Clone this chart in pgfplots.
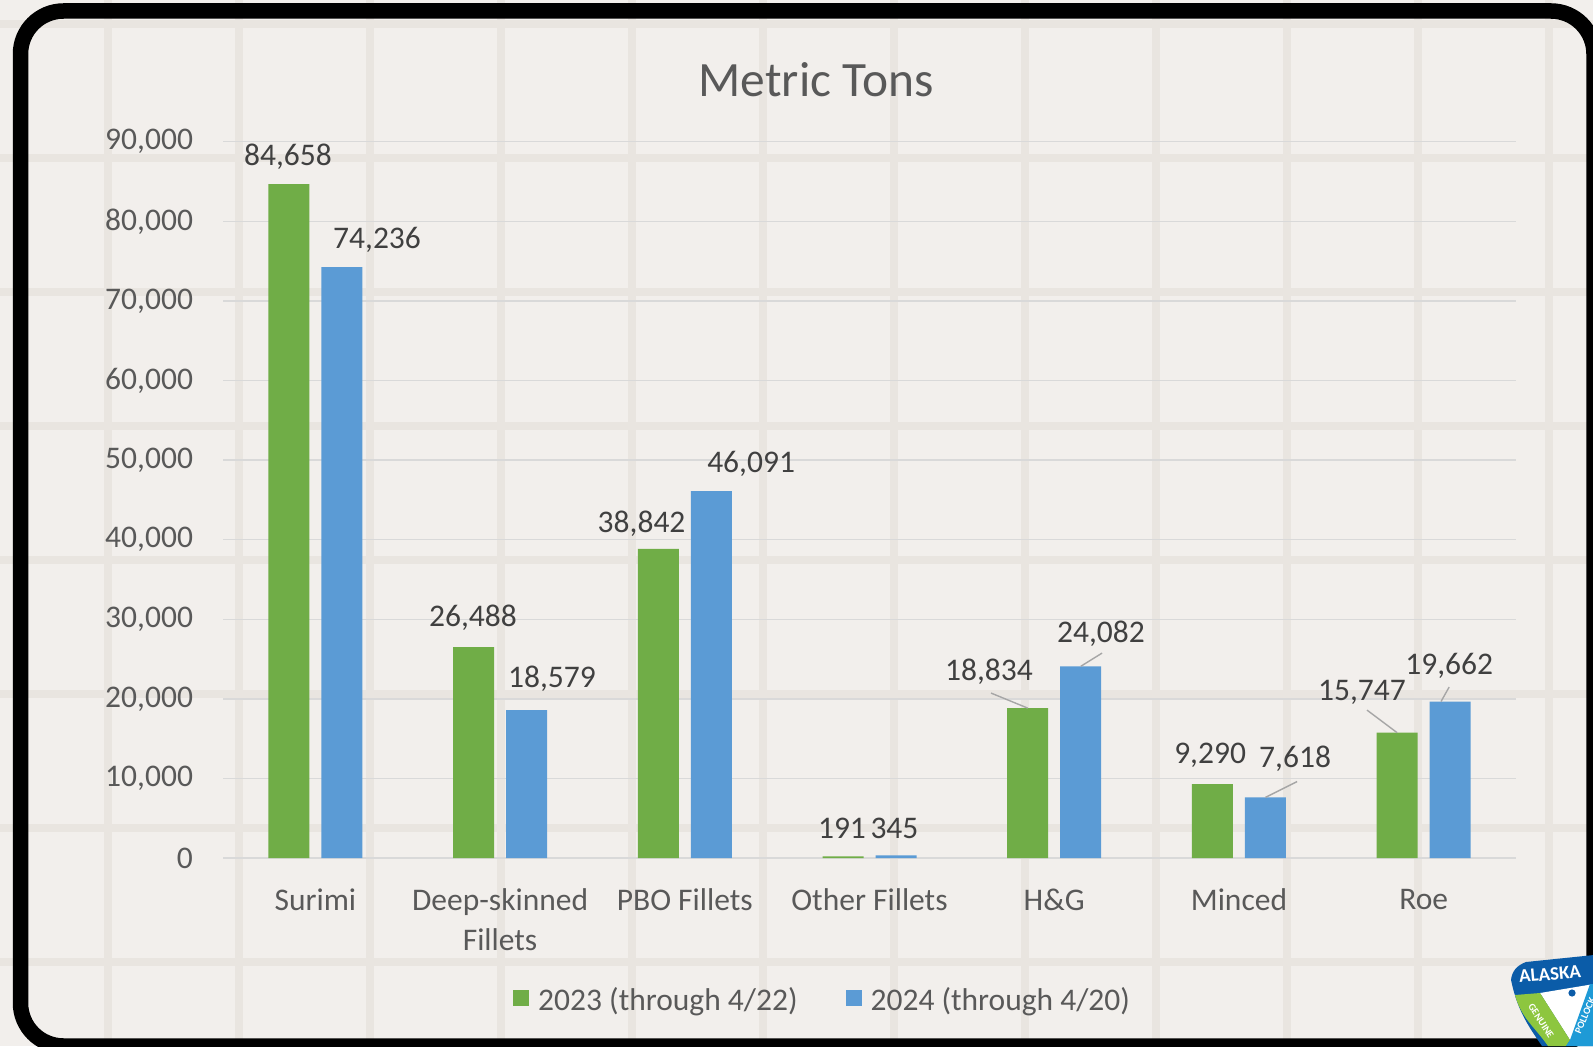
\documentclass[border=0pt]{standalone}
\usepackage{pgfplots}
\pgfplotsset{compat=1.18}
\usepackage{fontspec}
\setmainfont{Carlito}

\definecolor{bg}{HTML}{F2EFEC}
\definecolor{stripe}{HTML}{E9E5E0}
\definecolor{grn}{HTML}{70AD47}
\definecolor{blu}{HTML}{5B9BD5}
\definecolor{tickc}{HTML}{595959}
\definecolor{lblc}{HTML}{404040}
\definecolor{gridc}{HTML}{D9D9D9}
\definecolor{leader}{HTML}{A6A6A6}
\definecolor{logoblue}{HTML}{0B5CA8}
\definecolor{logogreen}{HTML}{8DC63F}
\definecolor{logocyan}{HTML}{1E9AD6}

\newcommand{\txt}{\fontsize{15.75}{20}\selectfont}

\begin{document}
\begin{tikzpicture}
\useasboundingbox (0,0) rectangle (796.5pt,523pt);
\clip (0,0) rectangle (796.5pt,523pt);

% background paper
\fill[bg] (0,0) rectangle (796.5pt,523pt);
\foreach \k in {0,...,11}
  \fill[stripe] ({(104+131*\k)*0.5pt},0) rectangle ({(112+131*\k)*0.5pt},523pt);
\foreach \k in {0,...,7}
  \fill[stripe] (0,{(1046-20-134*\k)*0.5pt}) rectangle (796.5pt,{(1046-28-134*\k)*0.5pt});

% frame
\draw[line width=7.75pt, rounded corners=21.5pt] (10.25pt,0pt) rectangle (797pt,517.5pt);

% title
\node[font=\fontsize{24.7}{30}\selectfont, text=tickc, anchor=base] at (408pt,474.5pt) {Metric Tons};

\begin{axis}[
  at={(111.5pt,94pt)}, anchor=south west,
  width=646.5pt, height=358.15pt, scale only axis,
  xmin=-0.5, xmax=6.5, ymin=0, ymax=90000,
  ytick={0,10000,...,90000},
  xtick={0,...,6},
  xticklabels={Surimi,{Deep-skinned\\Fillets},PBO Fillets,Other Fillets,H\&G,Minced,Roe},
  scaled y ticks=false,
  yticklabel style={/pgf/number format/fixed, /pgf/number format/1000 sep={,},
    /pgf/number format/assume math mode=true, xshift=-11.5pt},
  xticklabel style={align=center, yshift=-12pt},
  every tick label/.append style={font=\txt, text=tickc},
  major tick length=0pt,
  axis line style={draw=none},
  ymajorgrids, grid style={gridc, line width=0.7pt},
  clip=false,
  legend style={at={(0.4645,-0.1982)}, anchor=center, draw=none, fill=none,
    legend columns=2, font=\txt, text=tickc,
    /tikz/every even column/.append style={column sep=22pt}},
  legend image code/.code={\fill[#1,draw=none] (0pt,-3pt) rectangle (8pt,5pt); \path (10.5pt,0pt);},
]
\addplot[ybar, fill=grn, draw=none, bar width=0.222, bar shift=-0.1435] coordinates {
  (0,84658) (1,26488) (2,38842) (3,191) (4,18834) (5,9290) (6,15747)};
\addplot[ybar, fill=blu, draw=none, bar width=0.222, bar shift=0.1435] coordinates {
  (0,74236) (1,18579) (2,46091) (3,345) (4,24082) (5,7618) (6,19662)};
\legend{2023 (through 4/22), 2024 (through 4/20)}

% data labels
\begin{scope}[every node/.style={font=\txt, text=lblc}]
\node at (axis cs:-0.148,88170) {84,658};
\node at (axis cs:0.334,77685) {74,236};
\node at (axis cs:0.853,30145) {26,488};
\node at (axis cs:1.281,22484) {18,579};
\node at (axis cs:1.766,41952) {38,842};
\node at (axis cs:2.359,49488) {46,091};
\node at (axis cs:2.851,3700) {191};
\node at (axis cs:3.135,3700) {345};
\node at (axis cs:3.647,23363) {18,834};
\node at (axis cs:4.253,28198) {24,082};
\node at (axis cs:4.844,12938) {9,290};
\node at (axis cs:5.304,12436) {7,618};
\node at (axis cs:5.666,20851) {15,747};
\node at (axis cs:6.138,24116) {19,662};
\end{scope}

% leader lines
\begin{scope}[leader, line width=0.7pt]
\draw (axis cs:3.658,20724) -- (axis cs:3.8565,18834);
\draw (axis cs:4.259,25748) -- (axis cs:4.1435,24082);
\draw (axis cs:5.315,9608) -- (axis cs:5.1435,7618);
\draw (axis cs:5.693,18589) -- (axis cs:5.8565,15747);
\draw (axis cs:6.094,19662) -- (axis cs:6.138,21478);
\end{scope}
\end{axis}

% logo (corner badge)
\fill[logoblue] (755.5pt,33pt) to[out=85,in=200] (763pt,42pt) -- (797pt,45.5pt) -- (797pt,0pt) -- (771pt,0pt) to[out=125,in=-78] cycle;
\fill[white] (770pt,26.5pt) -- (797pt,31pt) -- (797pt,0pt) -- (785pt,3pt) -- cycle;
\fill[logogreen] (757.5pt,25.5pt) -- (770pt,26.5pt) -- (785pt,3pt) -- (783pt,0pt) -- (774pt,0pt) to[out=125,in=-75] cycle;
\fill[logocyan] (795pt,31pt) -- (797pt,31pt) -- (797pt,0pt) -- (783pt,0pt) -- (785pt,3pt) -- cycle;
\fill[logoblue] (786pt,26.5pt) circle (1.8pt);
\node[inner sep=0pt, text=white, font=\bfseries\fontsize{9.5}{10}\selectfont, rotate=5] at (775pt,36pt) {ALASKA};
\node[inner sep=0pt, text=white, font=\bfseries\fontsize{5}{6}\selectfont, rotate=-57] at (770.5pt,12.5pt) {GENUINE};
\node[inner sep=0pt, text=white, font=\bfseries\fontsize{5}{6}\selectfont, rotate=67] at (792.5pt,15pt) {POLLOCK};
\end{tikzpicture}
\end{document}
